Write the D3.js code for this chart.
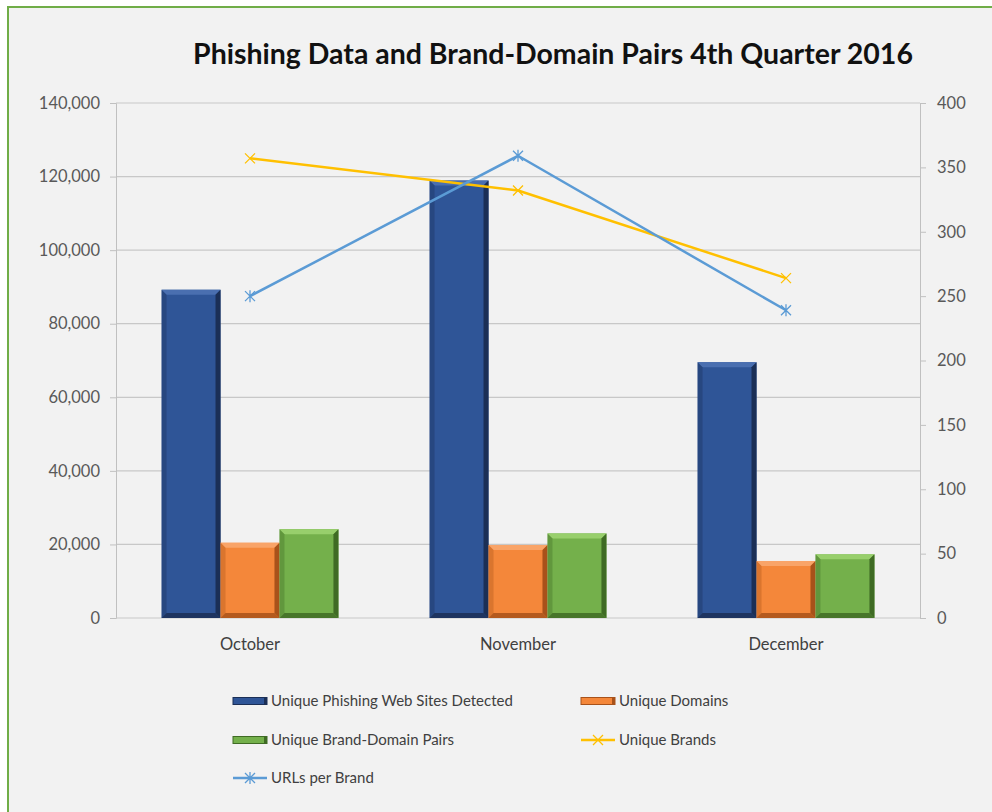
<!DOCTYPE html>
<html>
<head>
<meta charset="utf-8">
<script src="https://cdn.jsdelivr.net/npm/d3@7"></script>
<style>
  html, body { margin: 0; padding: 0; background: #ffffff; }
  svg { display: block; }
  text { font-family: Lato, "Open Sans", "Liberation Sans", sans-serif; }
</style>
</head>
<body>
<svg id="chart" width="992" height="812"></svg>
<script>
// Monthly phishing figures, Q4 2016
const months = ["October", "November", "December"];
const sitesDetected = [89232, 118928, 69533];
const uniqueDomains = [20450, 19850, 15500];
const brandDomainPairs = [24150, 23000, 17300];
const uniqueBrands = [357, 332, 264];
const urlsPerBrand = [250, 359, 239];

const leftTicks = [0, 20000, 40000, 60000, 80000, 100000, 120000, 140000];
const rightTicks = [0, 50, 100, 150, 200, 250, 300, 350, 400];

const barSeries = [
  { name: "Unique Phishing Web Sites Detected", values: sitesDetected, fill: "#2f5597", light: "#4a6fb0", dark: "#1b2f56" },
  { name: "Unique Domains", values: uniqueDomains, fill: "#f4873a", light: "#f9a468", dark: "#a8521a" },
  { name: "Unique Brand-Domain Pairs", values: brandDomainPairs, fill: "#74b04b", light: "#98cf6c", dark: "#3f6b24" }
];
const lineSeries = [
  { name: "Unique Brands", values: uniqueBrands, color: "#ffc000", marker: "x" },
  { name: "URLs per Brand", values: urlsPerBrand, color: "#5b9bd5", marker: "star" }
];

const svg = d3.select("#chart");

// panel background and frame
svg.append("rect").attr("x", 8).attr("y", 7).attr("width", 1000).attr("height", 820)
  .attr("fill", "#f2f2f2").attr("stroke", "#70ad47").attr("stroke-width", 2);

const plotLeft = 116, plotRight = 920, plotTop = 103, plotBottom = 618;

const x = d3.scaleBand().domain(months).range([plotLeft, plotRight]).paddingInner(0).paddingOuter(0);
const groupW = x.bandwidth() * 0.66;
const x1 = d3.scaleBand().domain(barSeries.map(s => s.name)).range([0, groupW]);
const yL = d3.scaleLinear().domain([0, 140000]).range([plotBottom, plotTop]);
const yR = d3.scaleLinear().domain([0, 400]).range([plotBottom, plotTop]);

// gridlines
svg.append("g").selectAll("line").data(leftTicks.filter(t => t > 0)).join("line")
  .attr("x1", plotLeft).attr("x2", plotRight)
  .attr("y1", d => yL(d)).attr("y2", d => yL(d))
  .attr("stroke", "#c8c8c8").attr("stroke-width", 1.2);

// left axis
const axL = svg.append("g").attr("transform", `translate(${plotLeft},0)`)
  .call(d3.axisLeft(yL).tickValues(leftTicks).tickSize(6).tickPadding(10).tickFormat(d3.format(",")));
axL.select(".domain").attr("stroke", "#c0c0c0");
axL.selectAll(".tick line").attr("stroke", "#c0c0c0");
axL.selectAll("text").attr("fill", "#595959").attr("font-size", 16.5);

// right axis
const axR = svg.append("g").attr("transform", `translate(${plotRight},0)`)
  .call(d3.axisRight(yR).tickValues(rightTicks).tickSize(6).tickPadding(11));
axR.select(".domain").attr("stroke", "#c0c0c0");
axR.selectAll(".tick line").attr("stroke", "#c0c0c0");
axR.selectAll("text").attr("fill", "#595959").attr("font-size", 16.5);

// baseline and month labels
svg.append("line").attr("x1", plotLeft).attr("x2", plotRight).attr("y1", plotBottom).attr("y2", plotBottom)
  .attr("stroke", "#c8c8c8").attr("stroke-width", 1.2);
svg.append("g").selectAll("text").data(months).join("text")
  .attr("x", d => x(d) + x.bandwidth() / 2).attr("y", plotBottom + 32)
  .attr("text-anchor", "middle").attr("fill", "#404040").attr("font-size", 16.5)
  .text(d => d);

// bevelled bars
const bevel = 5;
function drawBar(g, bx, by, w, h, s) {
  g.append("rect").attr("x", bx).attr("y", by).attr("width", w).attr("height", h).attr("fill", s.fill);
  const b = Math.min(bevel, h / 2, w / 2);
  const poly = (pts, fill, op) => g.append("polygon")
    .attr("points", pts.map(p => p.join(",")).join(" ")).attr("fill", fill).attr("opacity", op);
  poly([[bx, by], [bx + w, by], [bx + w - b, by + b], [bx + b, by + b]], s.light, 1);
  poly([[bx, by], [bx + b, by + b], [bx + b, by + h - b], [bx, by + h]], s.dark, 0.35);
  poly([[bx + w, by], [bx + w, by + h], [bx + w - b, by + h - b], [bx + w - b, by + b]], s.dark, 1);
  poly([[bx, by + h], [bx + w, by + h], [bx + w - b, by + h - b], [bx + b, by + h - b]], s.dark, 0.85);
}
const barsG = svg.append("g");
months.forEach((m, i) => {
  barSeries.forEach(s => {
    const bx = x(m) + (x.bandwidth() - groupW) / 2 + x1(s.name);
    const by = yL(s.values[i]);
    drawBar(barsG, bx, by, x1.bandwidth(), plotBottom - by, s);
  });
});

// markers
function marker(g, cx, cy, type, color) {
  const r = 5;
  const p = d3.path();
  p.moveTo(cx - r, cy - r); p.lineTo(cx + r, cy + r);
  p.moveTo(cx - r, cy + r); p.lineTo(cx + r, cy - r);
  if (type === "star") { p.moveTo(cx, cy - r - 1); p.lineTo(cx, cy + r + 1); }
  g.append("path").attr("d", p.toString()).attr("stroke", color).attr("stroke-width", 1.3).attr("fill", "none");
}

// lines on the secondary axis
const cx = d => x(d) + x.bandwidth() / 2;
lineSeries.forEach(s => {
  const g = svg.append("g");
  const line = d3.line().x((d, i) => cx(months[i])).y(d => yR(d));
  g.append("path").datum(s.values).attr("d", line)
    .attr("fill", "none").attr("stroke", s.color).attr("stroke-width", 2.5).attr("stroke-linejoin", "round");
  s.values.forEach((v, i) => marker(g, cx(months[i]), yR(v), s.marker, s.color));
});

// title
const title = svg.append("text").attr("x", 553).attr("y", 64).attr("text-anchor", "middle")
  .attr("font-weight", "bold").attr("fill", "#111").attr("font-size", 24)
  .text("Phishing Data and Brand-Domain Pairs 4th Quarter 2016");
const tw = title.node().getComputedTextLength();
title.attr("font-size", 24 * 720 / tw);

// legend
const legendItems = [
  { s: barSeries[0], kind: "bar", col: 0, row: 0 },
  { s: barSeries[1], kind: "bar", col: 1, row: 0 },
  { s: barSeries[2], kind: "bar", col: 0, row: 1 },
  { s: lineSeries[0], kind: "line", col: 1, row: 1 },
  { s: lineSeries[1], kind: "line", col: 0, row: 2 }
];
const legCols = [233, 581], legRows = [701, 740, 778];
const legG = svg.append("g");
legendItems.forEach(it => {
  const lx = legCols[it.col], ly = legRows[it.row];
  if (it.kind === "bar") {
    legG.append("rect").attr("x", lx).attr("y", ly - 3.5).attr("width", 34).attr("height", 7)
      .attr("fill", it.s.fill).attr("stroke", it.s.dark).attr("stroke-width", 1);
    legG.append("rect").attr("x", lx + 31).attr("y", ly - 3.5).attr("width", 3).attr("height", 7)
      .attr("fill", it.s.dark);
  } else {
    legG.append("line").attr("x1", lx).attr("x2", lx + 34).attr("y1", ly).attr("y2", ly)
      .attr("stroke", it.s.color).attr("stroke-width", 2.5);
    marker(legG, lx + 17, ly, it.s.marker, it.s.color);
  }
  legG.append("text").attr("x", lx + 38).attr("y", ly + 5)
    .attr("fill", "#404040").attr("font-size", 15).text(it.s.name);
});
</script>
</body>
</html>
